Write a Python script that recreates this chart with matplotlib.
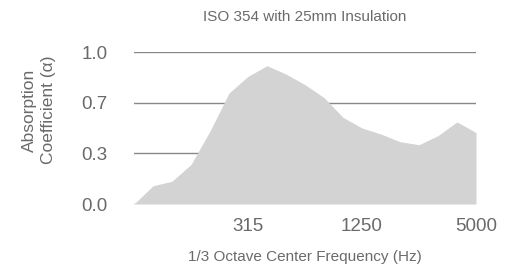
import matplotlib
matplotlib.use("Agg")
import matplotlib.pyplot as plt

# 1/3 octave bands and absorption values
freqs = ["80", "100", "125", "160", "200", "250", "315", "400", "500", "630",
         "800", "1000", "1250", "1600", "2000", "2500", "3150", "4000", "5000"]
alpha = [0.0, 0.12, 0.15, 0.26, 0.48, 0.73, 0.84, 0.91, 0.855, 0.785,
         0.70, 0.57, 0.50, 0.46, 0.41, 0.39, 0.45, 0.54, 0.47]
shown_freqs = ["315", "1250", "5000"]
y_ticks = [0.0, 1 / 3, 2 / 3, 1.0]
y_ticklabels = ["0.0", "0.3", "0.7", "1.0"]

text_color = "#6a6a6a"
plt.rcParams["font.family"] = ["Liberation Sans", "DejaVu Sans"]

fig = plt.figure(figsize=(5.16, 2.73), dpi=100)
ax = fig.add_axes([0.2597, 0.2527, 0.6628, 0.5568])

x = list(range(len(freqs)))
ax.fill_between(x, alpha, 0, color="#d3d3d3", linewidth=0, zorder=5)

ax.set_xlim(0, len(freqs) - 1)
ax.set_ylim(0, 1.0)
ax.set_yticks(y_ticks)
ax.set_yticklabels(y_ticklabels)
ax.set_xticks([freqs.index(f) for f in shown_freqs])
ax.set_xticklabels(shown_freqs)

# grid lines sit under the filled area
for y in y_ticks:
    ax.axhline(y, color="#888888", linewidth=1.0, zorder=1)

for s in ax.spines.values():
    s.set_visible(False)
ax.tick_params(axis="both", length=0, labelsize=13.5, colors=text_color)
ax.tick_params(axis="y", pad=19)
ax.tick_params(axis="x", pad=10)

fig.text(0.591, 1 - 17 / 273, "ISO 354 with 25mm Insulation", ha="center", va="center",
         fontsize=11, color=text_color)
fig.text(0.591, 1 - 257 / 273, "1/3 Octave Center Frequency (Hz)", ha="center", va="center",
         fontsize=11, color=text_color)
fig.text(39 / 516, 1 - 110 / 273, "Absorption\nCoefficient (α)", ha="center", va="center",
         rotation=90, fontsize=12.5, color=text_color, linespacing=1.3)

fig.savefig("out.png", dpi=100)
